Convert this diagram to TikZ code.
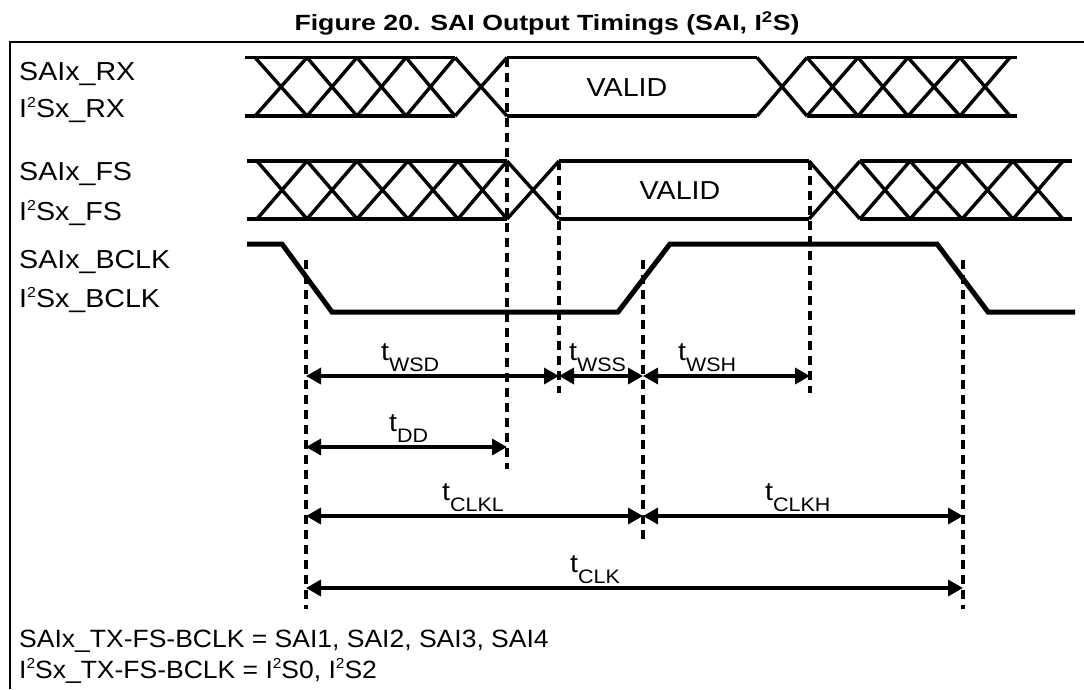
\documentclass[tikz,border=0pt]{standalone}
\usepackage{fontspec}
\usepackage{graphicx}
\setmainfont{Liberation Sans}[FakeStretch=1.1]
\newfontfamily\notefont{Liberation Sans}[FakeStretch=1.06]
\usetikzlibrary{arrows.meta}

\newcommand{\tsub}[1]{t\raisebox{-11pt}{\fontsize{19.5}{20}\selectfont #1}}
\newcommand{\Itwo}{I\raisebox{9.5pt}{\fontsize{14.5}{15}\selectfont 2}}

\begin{document}
\begin{tikzpicture}[x=1pt, y=-1pt,
  sig/.style={line width=3.4pt},
  clk/.style={line width=5pt, line join=miter},
  guide/.style={line width=4pt, dash pattern=on 9pt off 6pt},
  dim/.style={line width=3.4pt, {Triangle[length=15pt,width=16pt]}-{Triangle[length=15pt,width=16pt]}},
  lbl/.style={inner sep=0pt, anchor=base west, font=\fontsize{26}{30}\selectfont},
  note/.style={inner sep=0pt, anchor=base west, font=\notefont\fontsize{25}{28}\selectfont}]
  \useasboundingbox (0,0) rectangle (1084,689);
  \node[inner sep=0pt, anchor=base] (title) at (547,30)
    {\resizebox{505pt}{\height}{\bfseries\fontsize{22}{24}\selectfont Figure 20. SAI Output Timings (SAI, I\textsuperscript{2}S)}};
  \draw[line width=2.8pt] (1084,42) -- (10,42) -- (10,689);
  \node[lbl] (rxa) at (19,80) {SAIx\_RX};
  \node[lbl] (rxb) at (19,117) {\Itwo Sx\_RX};
  \node[lbl] (fsa) at (19,180) {SAIx\_FS};
  \node[lbl] (fsb) at (19,220) {\Itwo Sx\_FS};
  \node[lbl] (cka) at (19,268) {SAIx\_BCLK};
  \node[lbl] (ckb) at (19,307) {\Itwo Sx\_BCLK};
  \foreach \y in {57.5,116}
    \draw[sig] (245,\y) -- (455,\y) (507,\y) -- (757,\y) (807,\y) -- (1017,\y);
  \foreach \a/\b in {255/307,307/357,357/406,406/455,455/507,757/807,807/858,858/908,908/960,960/1010}
    \draw[sig] (\a,57.5) -- (\b,116) (\a,116) -- (\b,57.5);
  \node[lbl, anchor=center] (rxv) at (627,88) {VALID};
  \foreach \y in {161,219}
    \draw[sig] (247,\y) -- (507,\y) (559,\y) -- (809,\y) (860,\y) -- (1072,\y);
  \foreach \a/\b in {257/307,307/357,357/408,408/458,458/507,507/559,809/860,860/910,910/962,962/1013,1013/1063}
    \draw[sig] (\a,161) -- (\b,219) (\a,219) -- (\b,161);
  \node[lbl, anchor=center] (fsv) at (680,191) {VALID};
  \draw[clk] (247,244) -- (282,244) -- (332,312) -- (618,312) -- (670,244)
    -- (937,244) -- (988,312) -- (1075,312);
  \coordinate (d1) at (306,260);
  \coordinate (d2) at (507,57.5);
  \coordinate (d3) at (559,161);
  \coordinate (d4) at (643,260);
  \coordinate (d5) at (810,161);
  \coordinate (d6) at (963,260);
  \draw[guide] (d1) -- (306,609);
  \draw[guide] (d2) -- (507,469);
  \draw[guide] (d3) -- (559,393);
  \draw[guide] (d4) -- (643,541);
  \draw[guide] (d5) -- (810,393);
  \draw[guide] (d6) -- (963,609);
  \coordinate (wsd) at (0,376);
  \coordinate (dd) at (0,447);
  \coordinate (clkl) at (0,516);
  \coordinate (clk) at (0,588);
  \draw[dim] (d1 |- wsd) -- (d3 |- wsd);
  \draw[dim] (d3 |- wsd) -- (d4 |- wsd);
  \draw[dim] (d4 |- wsd) -- (d5 |- wsd);
  \draw[dim] (d1 |- dd) -- (d2 |- dd);
  \draw[dim] (d1 |- clkl) -- (d4 |- clkl);
  \draw[dim] (d4 |- clkl) -- (d6 |- clkl);
  \draw[dim] (d1 |- clk) -- (d6 |- clk);
  \node[lbl] (twsd) at (381,360) {\tsub{WSD}};
  \node[lbl] (twss) at (569,360) {\tsub{WSS}};
  \node[lbl] (twsh) at (678,360) {\tsub{WSH}};
  \node[lbl] (tdd) at (389,431) {\tsub{DD}};
  \node[lbl] (tclkl) at (442,500) {\tsub{CLKL}};
  \node[lbl] (tclkh) at (765,500) {\tsub{CLKH}};
  \node[lbl] (tclk) at (570,572) {\tsub{CLK}};
  \node[note] (nsai) at (19,647) {SAIx\_TX-FS-BCLK = SAI1, SAI2, SAI3, SAI4};
  \node[note] (ni2s) at (19,678) {\Itwo Sx\_TX-FS-BCLK = \Itwo S0, \Itwo S2};
\end{tikzpicture}
\end{document}
